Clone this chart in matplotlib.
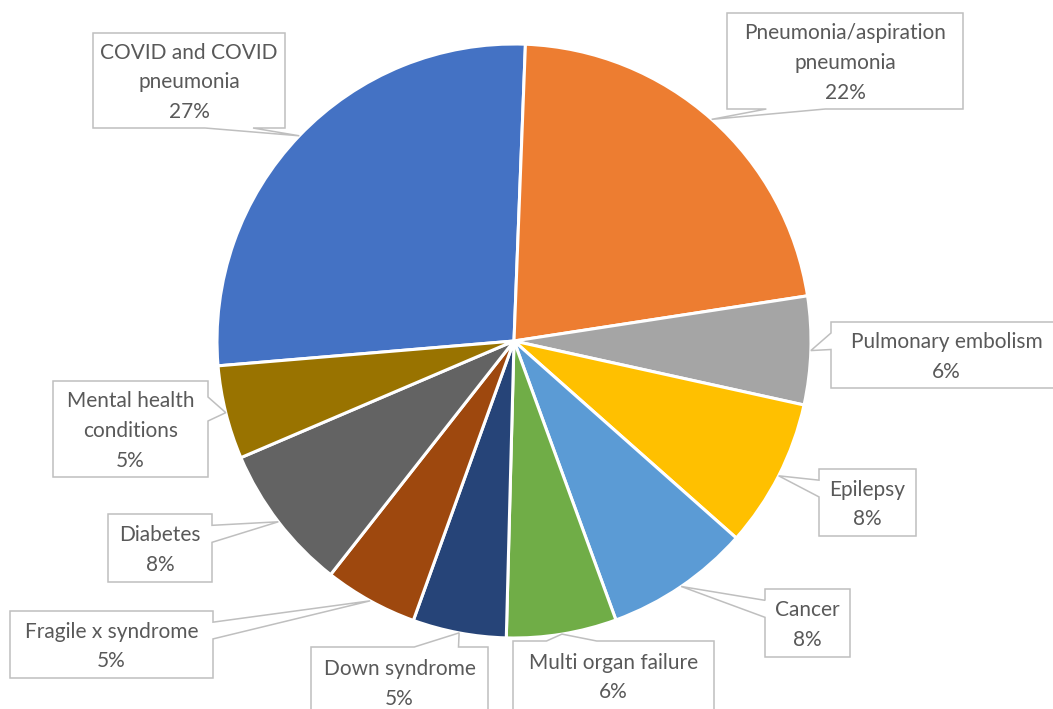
import matplotlib
matplotlib.use("Agg")
import matplotlib.pyplot as plt
import numpy as np
from matplotlib.patches import Polygon

# data, in Excel series order (plotted clockwise)
causes = ["COVID and COVID\npneumonia", "Pneumonia/aspiration\npneumonia", "Pulmonary embolism",
          "Epilepsy", "Cancer", "Multi organ failure", "Down syndrome",
          "Fragile x syndrome", "Diabetes", "Mental health\nconditions"]
shares = [27.0, 22.0, 5.9, 8.1, 7.9, 6.0, 5.1, 5.1, 8.0, 5.1]
colors = ["#4472C4", "#ED7D31", "#A5A5A5", "#FFC000", "#5B9BD5",
          "#70AD47", "#264478", "#9E480E", "#636363", "#997300"]

# label box positions in pixels (x0, y0, x1, y1), y measured downward
boxes = [(93, 33, 285, 128), (727, 13, 963, 109), (831, 322, 1062, 388),
         (819, 469, 916, 536), (765, 589, 850, 657), (513, 641, 714, 710),
         (311, 647, 488, 717), (10, 611, 213, 678), (108, 514, 212, 582),
         (53, 381, 208, 477)]

W, H = 1053, 709
CX, CY, R = 514, 341, 297


def callout_points(box, tip):
    # outline of an Excel style wedge-rect callout
    x0, y0, x1, y1 = box
    tx, ty = tip
    w, h = x1 - x0, y1 - y0
    dxp, dyp = tx - (x0 + x1) / 2, ty - (y0 + y1) / 2
    adx = abs(dxp * h / w)
    ady = abs(dyp)
    g1, g2 = (7, 10) if dxp > 0 else (2, 5)
    xa, xb = x0 + w * g1 / 12, x0 + w * g2 / 12
    g1, g2 = (7, 10) if dyp > 0 else (2, 5)
    ya, yb = y0 + h * g1 / 12, y0 + h * g2 / 12
    tl, tr, br, bl = (x0, y0), (x1, y0), (x1, y1), (x0, y1)
    if ady > adx:
        if dyp < 0:
            return [tl, (xa, y0), tip, (xb, y0), tr, br, bl]
        return [tl, tr, br, (xb, y1), tip, (xa, y1), bl]
    if dxp > 0:
        return [tl, tr, (x1, ya), tip, (x1, yb), br, bl]
    return [tl, tr, br, bl, (x0, yb), tip, (x0, ya)]


fig = plt.figure(figsize=(W / 100, H / 100), dpi=100)
ax = fig.add_axes([0, 0, 1, 1])

wedges, _ = ax.pie(shares, colors=colors, startangle=175.2, center=(CX, CY), radius=R,
                   wedgeprops=dict(edgecolor="white", linewidth=2.2))
ax.set_xlim(0, W)
ax.set_ylim(H, 0)
ax.set_aspect("equal")
ax.axis("off")

total = sum(shares)
for wedge, name, val, box in zip(wedges, causes, shares, boxes):
    mid = np.deg2rad((wedge.theta1 + wedge.theta2) / 2)
    tip = (CX + R * np.cos(mid), CY + R * np.sin(mid))
    ax.add_patch(Polygon(callout_points(box, tip), closed=True, facecolor="white",
                         edgecolor="#BFBFBF", linewidth=1.1, zorder=3))
    ax.text((box[0] + box[2]) / 2, (box[1] + box[3]) / 2 + 2,
            f"{name}\n{round(val / total * 100)}%", ha="center", va="center",
            fontsize=15, color="#595959", family="Lato", linespacing=1.62, zorder=4)

fig.savefig("out.png", dpi=100)
